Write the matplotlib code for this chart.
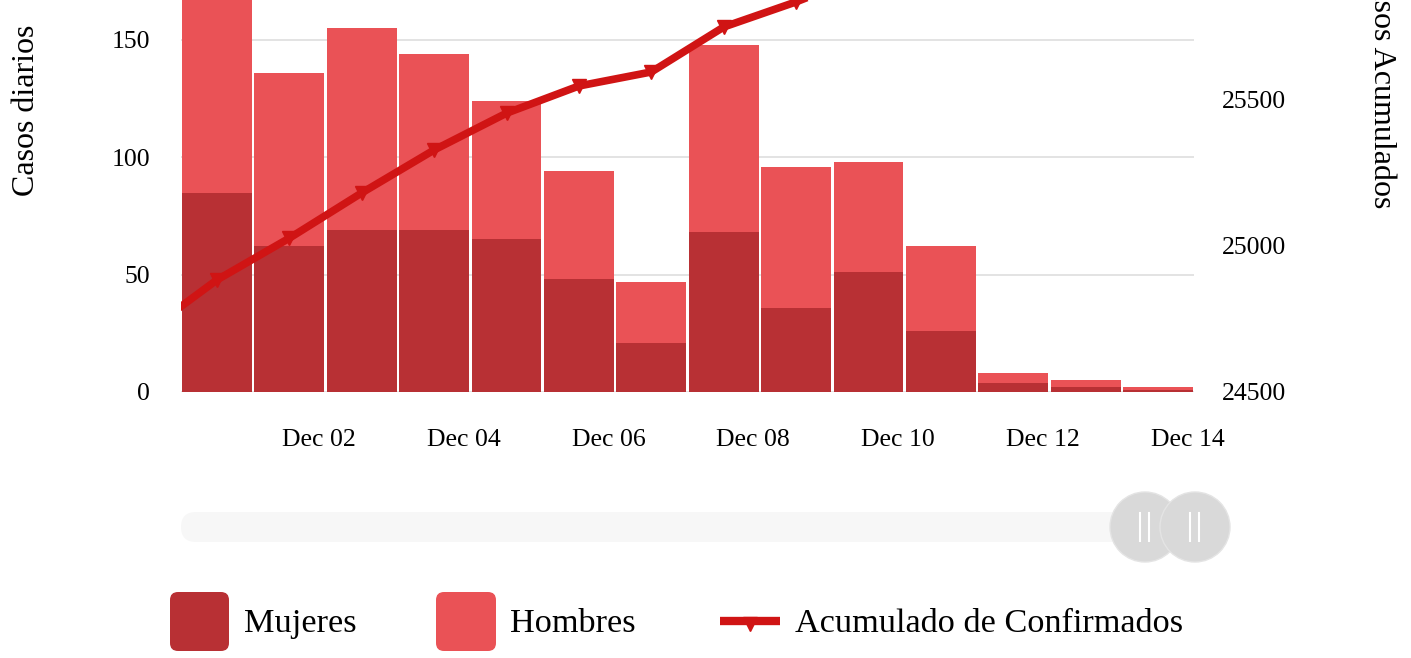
import numpy as np
import matplotlib
matplotlib.use("Agg")
import matplotlib.pyplot as plt
from matplotlib.patches import FancyBboxPatch, Circle

plt.rcParams['font.family'] = ['Liberation Serif', 'DejaVu Serif']

# datos diarios (Dec 01 .. Dec 14)
mujeres = [85, 62, 69, 69, 65, 48, 21, 68, 36, 51, 26, 4, 2, 1]
hombres = [98, 74, 86, 75, 59, 46, 26, 80, 60, 47, 36, 4, 3, 1]
# acumulado desde Nov 30
acumulado = [24701, 24884, 25027, 25182, 25329, 25455, 25548, 25596,
             25750, 25836, 25934, 25996, 26004, 26009, 26011]
etiquetas = ['Dec 02', 'Dec 04', 'Dec 06', 'Dec 08', 'Dec 10', 'Dec 12', 'Dec 14']

oscuro = '#b83034'
claro = '#ea5256'
linea = '#d01414'

W, H = 1411, 658
fig = plt.figure(figsize=(W / 100, H / 100), dpi=100)
x0, x1 = 180.8, 1194.2
ax = fig.add_axes([x0 / W, (H - 392) / H, (x1 - x0) / W, 200 * 2.347 / H])

x = np.arange(len(mujeres))
ax.bar(x, mujeres, width=0.965, color=oscuro, edgecolor='none', zorder=2)
ax.bar(x, hombres, bottom=mujeres, width=0.965, color=claro, edgecolor='none', zorder=2)
ax.set_xlim(-0.5, len(mujeres) - 0.5)
ax.set_ylim(0, 200)
ax.set_yticks([0, 50, 100, 150])
ax.yaxis.grid(True, color='#e0e0e0', lw=1.3)
ax.set_axisbelow(True)
for s in ax.spines.values():
    s.set_visible(False)

offset = 0.41
ax.set_xticks([1 + 2 * i + offset for i in range(len(etiquetas))])
ax.set_xticklabels(etiquetas)
ax.tick_params(axis='x', length=0, pad=27, labelsize=18.5)
ax.tick_params(axis='y', length=0, pad=22, labelsize=18.5)

ax2 = ax.twinx()
ax2.plot(np.arange(-1, len(acumulado) - 1), acumulado, color=linea, lw=5.5,
         marker='v', ms=10, zorder=3)
ax2.set_ylim(24500, 24500 + 469.4 / 146 * 500)
ax2.set_yticks([24500, 25000, 25500])
ax2.tick_params(axis='y', length=0, pad=20, labelsize=18.5)
for s in ax2.spines.values():
    s.set_visible(False)

fig.text(27 / W, 1 - 110 / H, 'Casos diarios', rotation=90, fontsize=23,
         ha='center', va='center')
fig.text(1381 / W, 1 - 86 / H, 'Casos Acumulados', rotation=-90, fontsize=23,
         ha='center', va='center')

# deslizador y leyenda en coordenadas de pixel
ov = fig.add_axes([0, 0, 1, 1])
ov.set_xlim(0, W)
ov.set_ylim(H, 0)
ov.axis('off')
ov.add_patch(FancyBboxPatch((181, 512), 1017, 30,
                            boxstyle='round,pad=0,rounding_size=15',
                            fc='#f7f7f7', ec='none'))
for cx in [1145, 1195]:
    ov.add_patch(Circle((cx, 527), 35, fc='#d9d9d9', ec='#e4e4e4', lw=1))
    for dx in [-5, 4]:
        ov.plot([cx + dx, cx + dx], [513, 541], color='white', lw=1.5)

ov.add_patch(FancyBboxPatch((170, 592), 59, 59,
                            boxstyle='round,pad=0,rounding_size=8',
                            fc=oscuro, ec='none'))
ov.text(244, 624, 'Mujeres', fontsize=24.7, va='center', ha='left')
ov.add_patch(FancyBboxPatch((436, 592), 60, 59,
                            boxstyle='round,pad=0,rounding_size=8',
                            fc=claro, ec='none'))
ov.text(510, 624, 'Hombres', fontsize=24.7, va='center', ha='left')
ov.plot([720, 780], [621, 621], color=linea, lw=6, solid_capstyle='butt')
ov.plot([750], [624], marker='v', color=linea, ms=10)
ov.text(795, 624, 'Acumulado de Confirmados', fontsize=24.7, va='center', ha='left')

fig.savefig('out.png', dpi=100)
